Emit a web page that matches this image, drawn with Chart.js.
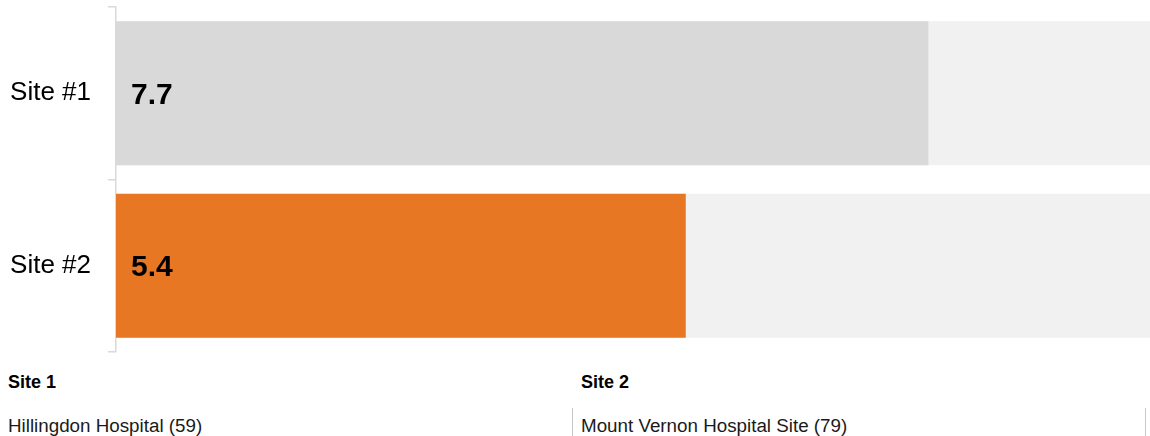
<!DOCTYPE html>
<html lang="en">
<head>
  <meta charset="UTF-8">
  <title>Site comparison</title>
  <script src="https://cdn.jsdelivr.net/npm/chart.js"></script>
  <style>
    * {
      margin: 0;
      padding: 0;
      font-family: "Liberation Sans", Arial, sans-serif;
    }
    body {
      width: 1150px;
      height: 436px;
      overflow: hidden;
      background: #fff;
    }
    .chartBox {
      position: relative;
      width: 1150px;
      height: 360px;
    }
    .siteTable {
      display: flex;
      width: 1146px;
    }
    .siteCol {
      width: 573px;
    }
    .siteHead {
      height: 48px;
      padding: 12px 0 0 8px;
      box-sizing: border-box;
      font-size: 18px;
      line-height: 20px;
      font-weight: bold;
      color: #000;
    }
    .siteName {
      height: 28px;
      padding: 8px 0 0 8px;
      box-sizing: border-box;
      font-size: 18.8px;
      line-height: 20px;
      color: #1a1a1a;
      border-right: 1px solid #c8c8c8;
    }
  </style>
</head>
<body>
  <div class="chartBox">
    <canvas id="myChart"></canvas>
  </div>
  <div class="siteTable">
    <div class="siteCol">
      <div class="siteHead">Site 1</div>
      <div class="siteName">Hillingdon Hospital (59)</div>
    </div>
    <div class="siteCol">
      <div class="siteHead">Site 2</div>
      <div class="siteName">Mount Vernon Hospital Site (79)</div>
    </div>
  </div>

  <script>
    // setup
    const labels = ['Site #1', 'Site #2'];
    const scores = [7.7, 5.4];
    const scaleMax = 9.8;
    const track = labels.map(() => scaleMax);
    const barColors = ['#d9d9d9', '#e77722'];

    // writes the value in bold near the start of each bar
    const valueLabels = {
      id: 'valueLabels',
      afterDatasetsDraw(chart) {
        const ctx = chart.ctx;
        const meta = chart.getDatasetMeta(0);
        const x0 = chart.scales.x.getPixelForValue(0);
        ctx.save();
        ctx.font = 'bold 30px "Liberation Sans", Arial, sans-serif';
        ctx.fillStyle = '#000';
        ctx.textAlign = 'left';
        ctx.textBaseline = 'middle';
        meta.data.forEach((bar, i) => {
          ctx.fillText(scores[i].toFixed(1), x0 + 15, bar.y + 2);
        });
        ctx.restore();
      }
    };

    const data = {
      labels: labels,
      datasets: [{
        data: scores,
        backgroundColor: barColors,
        borderWidth: 0,
        grouped: false,
        categoryPercentage: 1,
        barPercentage: 0.835
      }, {
        data: track,
        backgroundColor: '#f1f1f1',
        borderWidth: 0,
        grouped: false,
        categoryPercentage: 1,
        barPercentage: 0.835
      }]
    };

    const config = {
      type: 'bar',
      data,
      options: {
        indexAxis: 'y',
        responsive: true,
        maintainAspectRatio: false,
        animation: false,
        layout: {
          padding: { top: 7, bottom: 8, left: 0, right: 0 }
        },
        plugins: {
          legend: { display: false },
          tooltip: { enabled: false }
        },
        scales: {
          x: {
            display: false,
            min: 0,
            max: scaleMax
          },
          y: {
            afterFit(scale) {
              // fixed axis width, no extra room above/below for the labels
              scale.width = 116;
              scale.paddingTop = 0;
              scale.paddingBottom = 0;
            },
            border: { color: '#d9d9d9', width: 1.5 },
            grid: {
              offset: true,
              drawOnChartArea: false,
              color: '#d9d9d9',
              lineWidth: 1.5,
              tickLength: 8
            },
            ticks: {
              padding: 17,
              color: '#000',
              font: { size: 26, family: '"Liberation Sans", Arial, sans-serif' }
            }
          }
        }
      },
      plugins: [valueLabels]
    };

    const myChart = new Chart(document.getElementById('myChart'), config);
  </script>
</body>
</html>
